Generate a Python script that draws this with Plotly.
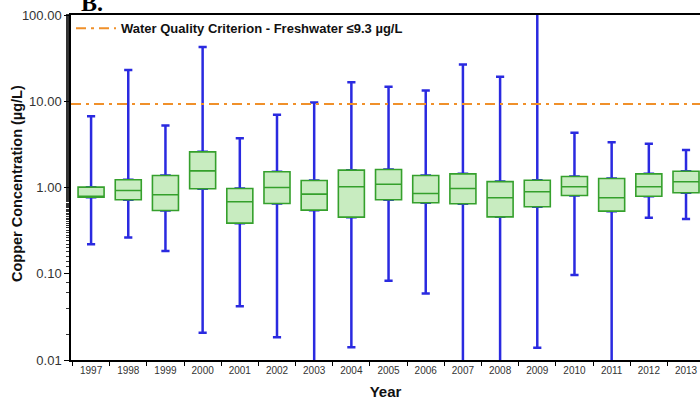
import plotly.graph_objects as go

# 연도별 구리 농도 상자그림 통계값 (µg/L, 그림에서 읽은 값)
years = [str(y) for y in range(1997, 2014)]
lower = [0.22, 0.264, 0.183, 0.0207, 0.042, 0.0184, 0.004, 0.0141, 0.083, 0.059,
         0.004, 0.004, 0.0139, 0.097, 0.004, 0.446, 0.43]
q1 = [0.77, 0.72, 0.541, 0.966, 0.386, 0.653, 0.546, 0.453, 0.72, 0.665,
      0.647, 0.457, 0.598, 0.808, 0.532, 0.793, 0.868]
median = [0.77, 0.923, 0.823, 1.56, 0.683, 1.0, 0.837, 1.02, 1.09, 0.852,
          0.974, 0.76, 0.892, 1.02, 0.76, 1.02, 1.164]
q3 = [1.01, 1.23, 1.38, 2.59, 0.974, 1.52, 1.205, 1.59, 1.62, 1.38,
      1.44, 1.17, 1.215, 1.34, 1.27, 1.44, 1.545]
upper = [6.7, 23.1, 5.23, 42.7, 3.73, 6.96, 9.66, 16.6, 14.7, 13.3,
         26.6, 19.2, 200.0, 4.3, 3.35, 3.21, 2.73]

criterion = 9.3
y_ticks = [0.01, 0.1, 1, 10, 100]
y_labels = ['0.01', '0.10', '1.00', '10.00', '100.00']

font = 'Liberation Sans, Arial, sans-serif'

fig = go.Figure()

# 파란 수염(whisker) - 얇은 상자 트레이스로 그리고 초록 상자로 덮음
fig.add_trace(go.Box(
    x=years, q1=q1, median=median, q3=q3,
    lowerfence=lower, upperfence=upper,
    width=0.22, whiskerwidth=1,
    line=dict(color='#2a2ae0', width=2.5),
    fillcolor='#2a2ae0',
    showlegend=False, hoverinfo='skip',
))

# 초록 상자 (사분위 범위 + 중앙값)
fig.add_trace(go.Box(
    x=years, q1=q1, median=median, q3=q3,
    lowerfence=q1, upperfence=q3,
    width=0.7, whiskerwidth=0,
    line=dict(color='#35a02c', width=1.6),
    fillcolor='#c8ecc0',
    showlegend=False, hoverinfo='skip',
))

# 수질 기준선
fig.add_hline(
    y=criterion,
    line=dict(color='#f0902a', width=2, dash='10px,5px,3px,5px'),
    showlegend=True,
    name='<b>Water Quality Criterion - Freshwater \u22649.3 \u00b5g/L</b>',
)

fig.add_annotation(
    text='<b>B.</b>', xref='paper', yref='paper', x=0.012, y=1,
    xanchor='left', yanchor='bottom', yshift=-3, showarrow=False,
    font=dict(family='Liberation Serif, DejaVu Serif, serif', size=24, color='black'),
)

# y축 제목 (축 제목 위치 제약 때문에 주석으로 배치)
fig.add_annotation(
    text='<b>Copper Concentration (\u00b5g/L)</b>', xref='paper', yref='paper',
    x=0, y=0.51, xanchor='center', yanchor='middle', xshift=-54,
    textangle=-90, showarrow=False,
    font=dict(family=font, size=14.5, color='#111'),
)

fig.update_layout(
    width=700, height=403,
    margin=dict(l=71, r=0, t=15, b=43),
    paper_bgcolor='white', plot_bgcolor='white',
    boxmode='overlay',
    font=dict(family=font, color='#222'),
    legend=dict(x=0, y=1.005, xanchor='left', yanchor='top', bgcolor='rgba(0,0,0,0)',
                itemwidth=40, font=dict(size=13, color='#111')),
    showlegend=True,
)

fig.update_xaxes(
    type='category', range=[-0.54, 16.376], automargin=False,
    showline=True, linecolor='black', linewidth=1.5, mirror=True,
    ticks='outside', tickson='boundaries', ticklen=4, tickcolor='black',
    tickfont=dict(size=10, color='#333'),
    showgrid=False,
    title=dict(text='<b>Year</b>', font=dict(size=15, color='#111'), standoff=12),
)

fig.update_yaxes(
    type='log', range=[-2, 2], automargin=False,
    tickvals=y_ticks, ticktext=y_labels,
    showline=True, linecolor='black', linewidth=1.5,
    ticks='outside', ticklen=5, tickcolor='black',
    minor=dict(ticks='outside', ticklen=3, tickcolor='#333', showgrid=False),
    tickfont=dict(size=13, color='#333'),
    showgrid=False, zeroline=False,
)

fig.write_html('out.html', config={'displayModeBar': False},
               post_script="document.body.style.margin='0';")
